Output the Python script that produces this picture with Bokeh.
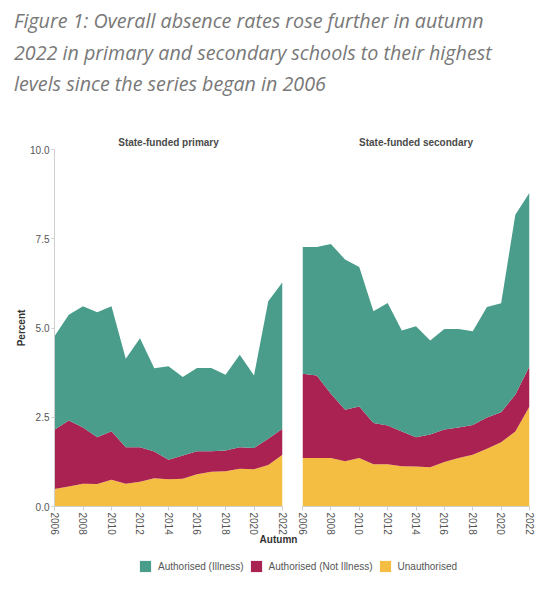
from bokeh.plotting import figure
from bokeh.layouts import column, row
from bokeh.models import (Range1d, FixedTicker, NumeralTickFormatter, ColumnDataSource,
                          Legend, LegendItem, Div, Label)
from bokeh.embed import file_html
from bokeh.resources import INLINE

# ---------------- data ----------------
years = list(range(2006, 2023))
x_ticks = [2006, 2008, 2010, 2012, 2014, 2016, 2018, 2020, 2022]
y_ticks = [0, 2.5, 5, 7.5, 10]

primary_unauthorised = [0.49, 0.56, 0.64, 0.63, 0.75, 0.64, 0.69, 0.79, 0.76, 0.78, 0.90, 0.97, 0.99, 1.06, 1.04, 1.16, 1.45]
primary_not_illness = [1.66, 1.85, 1.57, 1.31, 1.36, 1.02, 0.97, 0.75, 0.55, 0.65, 0.65, 0.58, 0.58, 0.60, 0.60, 0.74, 0.73]
primary_illness = [2.62, 2.96, 3.40, 3.50, 3.50, 2.48, 3.05, 2.33, 2.62, 2.20, 2.33, 2.33, 2.12, 2.59, 2.03, 3.85, 4.10]

secondary_unauthorised = [1.36, 1.36, 1.36, 1.27, 1.36, 1.18, 1.18, 1.13, 1.12, 1.10, 1.25, 1.36, 1.45, 1.62, 1.80, 2.10, 2.80]
secondary_not_illness = [2.36, 2.31, 1.80, 1.44, 1.44, 1.16, 1.09, 0.97, 0.82, 0.92, 0.91, 0.85, 0.83, 0.87, 0.84, 1.03, 1.13]
secondary_illness = [3.55, 3.60, 4.19, 4.21, 3.91, 3.13, 3.43, 2.83, 3.11, 2.63, 2.81, 2.76, 2.63, 3.10, 3.05, 5.04, 4.86]

series_labels = ["Authorised (Illness)", "Authorised (Not Illness)", "Unauthorised"]
panel_titles = ["State-funded primary", "State-funded secondary"]
x_title = "Autumn"
y_title = "Percent"
title_lines = ["Figure 1: Overall absence rates rose further in autumn",
               "2022 in primary and secondary schools to their highest",
               "levels since the series began in 2006"]

# ---------------- style ----------------
TEAL = "#4a9d8a"
CRIMSON = "#aa2251"
YELLOW = "#f4be42"
FONT = "Liberation Sans"
AXIS_GREY = "#cfcfcf"
TEXT_GREY = "#555555"


def make_panel(title, unauth, notill, ill, width, left, right, show_y):
    src = ColumnDataSource(dict(year=years, u=unauth, n=notill, i=ill))
    p = figure(width=width, height=417, x_range=Range1d(2006, 2022), y_range=Range1d(0, 10),
               output_backend="svg", toolbar_location=None,
               min_border_left=left, min_border_right=right, min_border_top=29, min_border_bottom=31)
    p.varea_stack(stackers=["u", "n", "i"], x="year", color=[YELLOW, CRIMSON, TEAL], source=src)
    p.title.text = title
    p.title.align = "center"
    p.title.text_font = FONT
    p.title.text_font_size = "10px"
    p.title.text_font_style = "bold"
    p.title.text_color = "#4a4a4a"
    p.title.standoff = 3
    p.xgrid.visible = False
    p.ygrid.visible = False
    p.outline_line_color = None

    xa = p.xaxis[0]
    xa.ticker = FixedTicker(ticks=x_ticks)
    xa.major_label_orientation = "vertical"
    xa.axis_line_color = AXIS_GREY
    xa.major_tick_line_color = AXIS_GREY
    xa.minor_tick_line_color = None
    xa.major_tick_out = 4
    xa.major_tick_in = 0
    xa.major_label_standoff = 2
    xa.major_label_text_font = FONT
    xa.major_label_text_font_size = "10px"
    xa.major_label_text_color = TEXT_GREY

    ya = p.yaxis[0]
    if show_y:
        ya.ticker = FixedTicker(ticks=y_ticks)
        ya.formatter = NumeralTickFormatter(format="0.0")
        ya.axis_line_color = AXIS_GREY
        ya.major_tick_line_color = AXIS_GREY
        ya.minor_tick_line_color = None
        ya.major_tick_out = 3
        ya.major_tick_in = 0
        ya.major_label_standoff = 2
        ya.major_label_text_font = FONT
        ya.major_label_text_font_size = "10px"
        ya.major_label_text_color = TEXT_GREY
        ya.axis_label = y_title
        ya.axis_label_text_font = FONT
        ya.axis_label_text_font_size = "10px"
        ya.axis_label_text_font_style = "bold"
        ya.axis_label_text_color = "#333333"
        ya.axis_label_standoff = 0
    else:
        ya.visible = False
    return p


p1 = make_panel(panel_titles[0], primary_unauthorised, primary_not_illness, primary_illness,
                292, 54, 10, True)
p2 = make_panel(panel_titles[1], secondary_unauthorised, secondary_not_illness, secondary_illness,
                247, 10, 10, False)

# bottom strip: shared x-axis title and legend; pulled up slightly over the panels'
# bottom border (transparent background) so the axis title sits right under the ticks
p3 = figure(width=539, height=63, x_range=Range1d(0, 1), y_range=Range1d(0, 1),
            output_backend="svg", toolbar_location=None, min_border=0,
            margin=(-8, 0, 0, 0))
p3.axis.visible = False
p3.grid.visible = False
p3.outline_line_color = None
p3.background_fill_color = None
p3.border_fill_color = None
leg_src = ColumnDataSource(dict(year=years, u=primary_unauthorised, n=primary_not_illness,
                                i=primary_illness))
r_u, r_n, r_i = p3.varea_stack(stackers=["u", "n", "i"], x="year",
                               color=[YELLOW, CRIMSON, TEAL], source=leg_src)
legend = Legend(items=[LegendItem(label=series_labels[0], renderers=[r_i]),
                       LegendItem(label=series_labels[1], renderers=[r_n]),
                       LegendItem(label=series_labels[2], renderers=[r_u])],
                orientation="horizontal", location=(138, 19), padding=0, margin=0, spacing=5,
                glyph_width=14, glyph_height=14, label_height=14, label_standoff=6,
                label_text_font=FONT, label_text_font_size="10px", label_text_color=TEXT_GREY,
                border_line_color=None, background_fill_alpha=0)
p3.add_layout(legend)
p3.add_layout(Label(x=278, y=53, x_units="screen", y_units="screen", text=x_title,
                    text_align="center", text_baseline="middle", text_font=FONT,
                    text_font_size="10px", text_font_style="bold", text_color="#333333"))

title_html = ('<div style="font-family:\'Open Sans\';font-style:italic;font-size:19.7px;'
              'line-height:31.5px;color:#787878;padding-left:14px;padding-top:5px;'
              'white-space:nowrap;">' + "<br>".join(title_lines) + '</div>')
div = Div(text=title_html, width=539, height=120, margin=0)

layout = column(div, row(p1, p2), p3)
open("out.html", "w").write(file_html(layout, INLINE))
